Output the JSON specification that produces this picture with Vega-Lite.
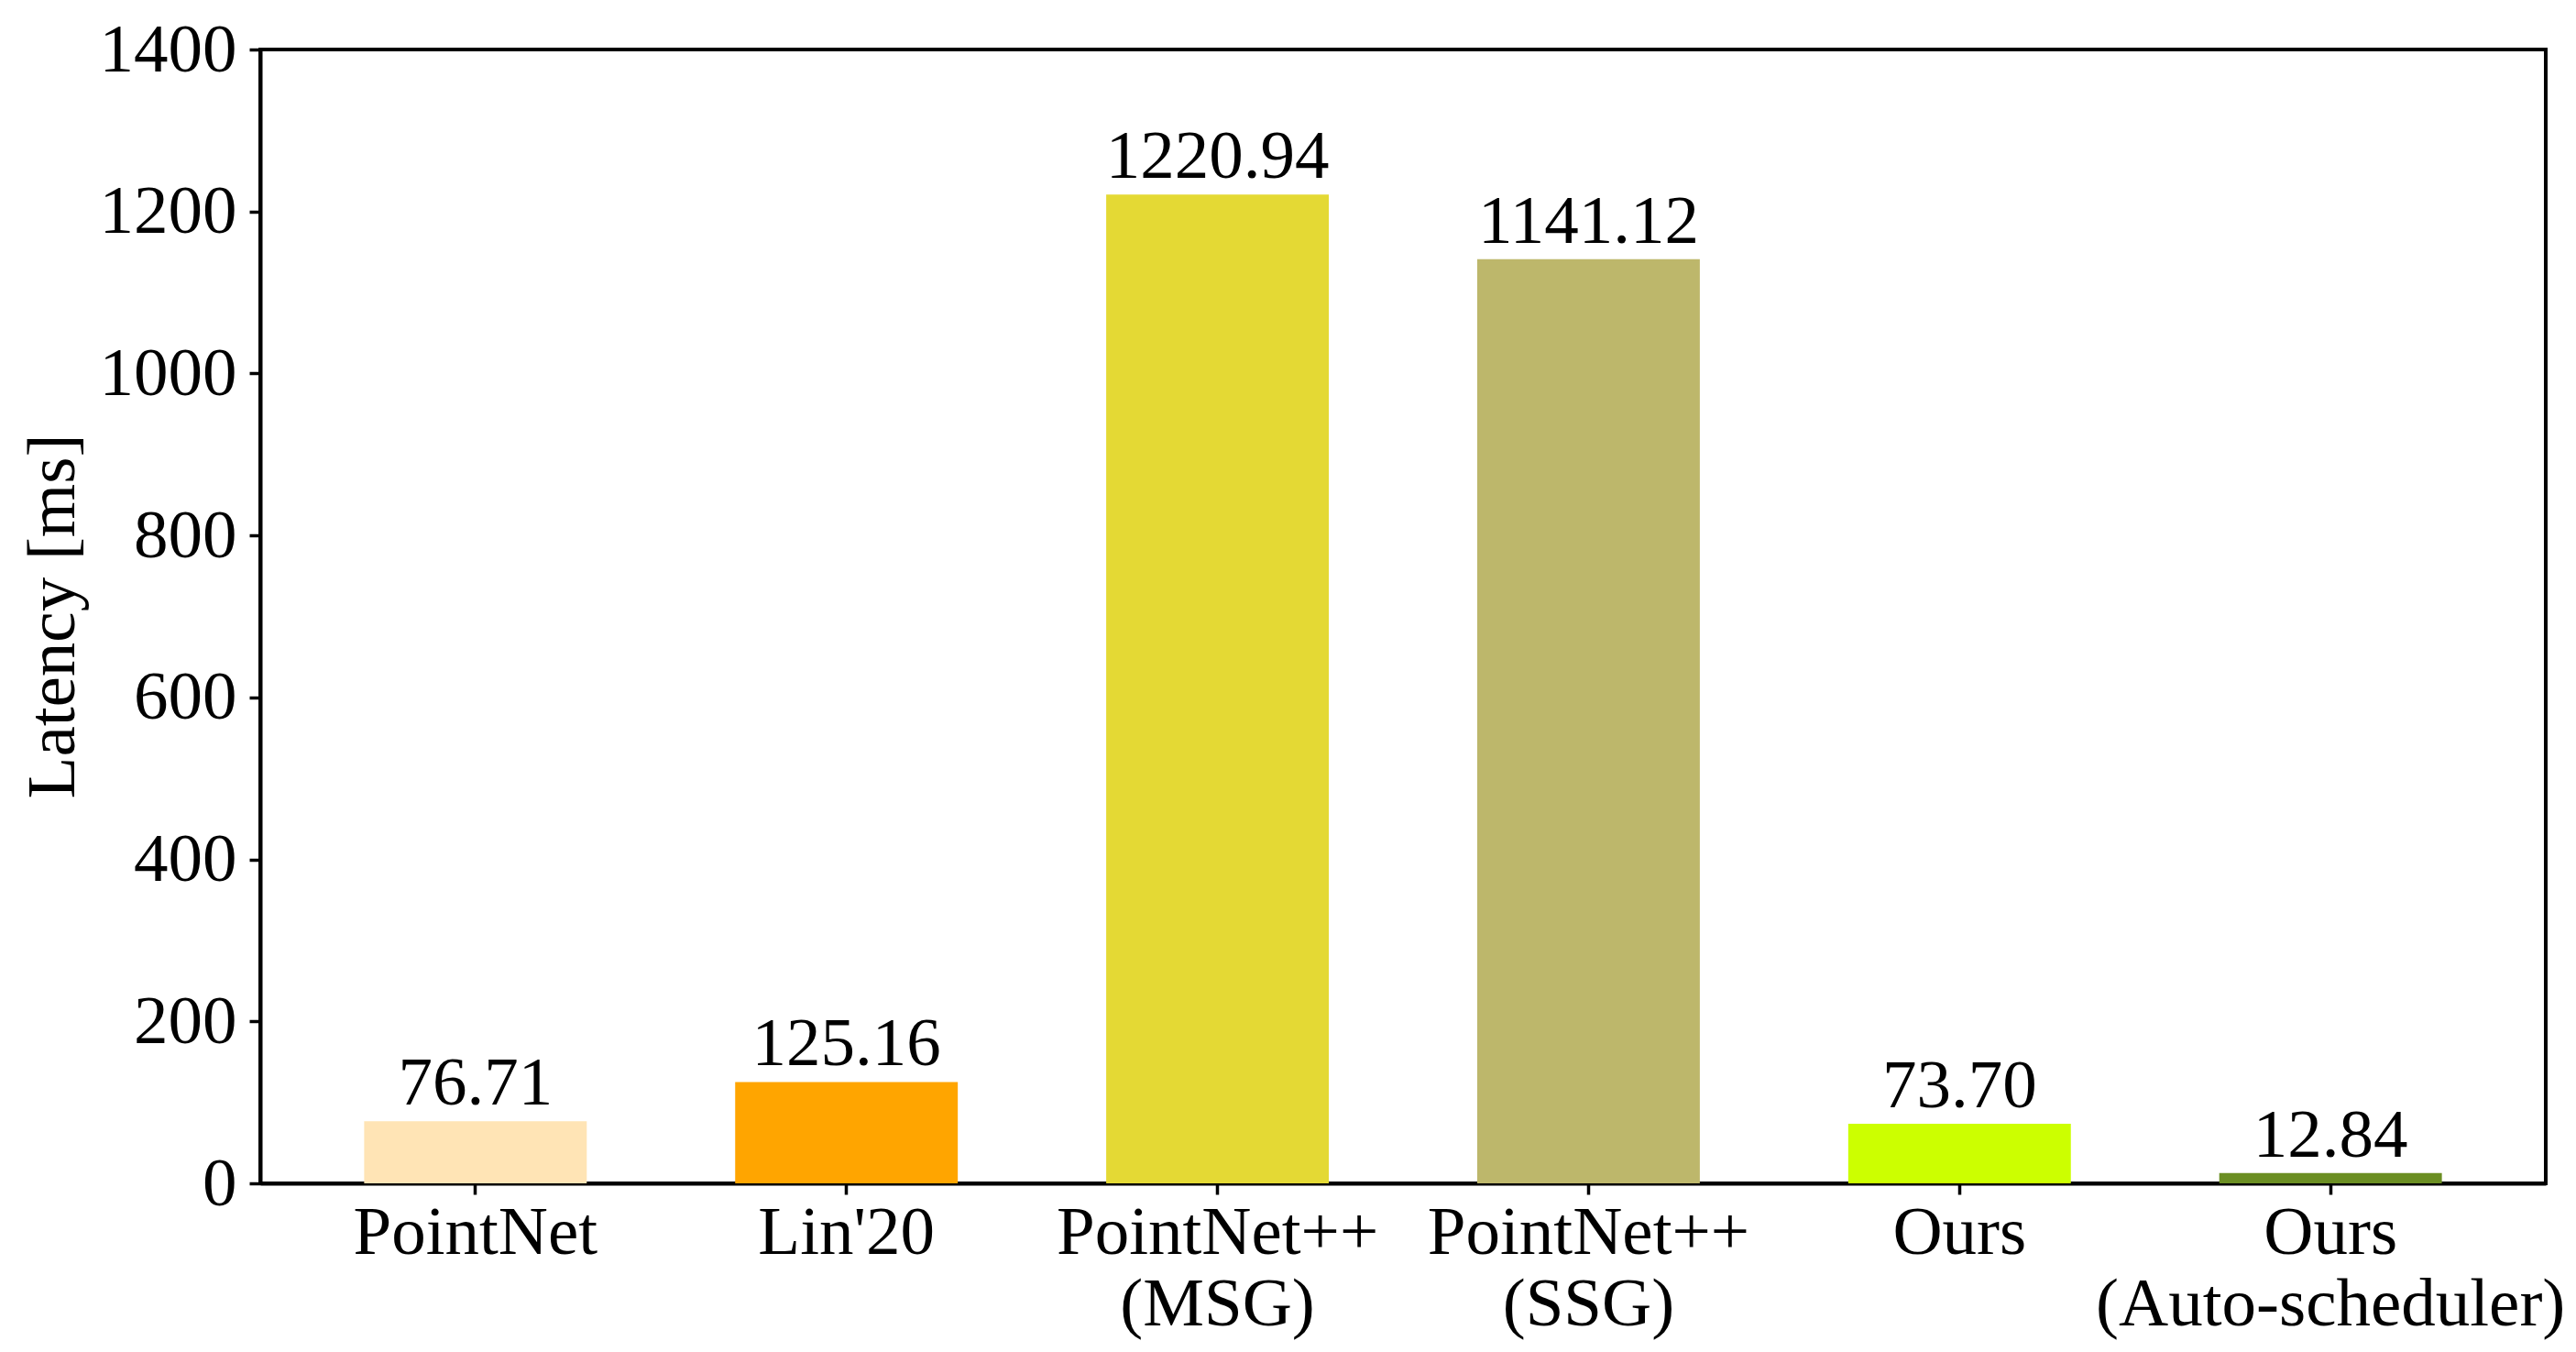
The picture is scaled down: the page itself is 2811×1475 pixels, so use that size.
{
  "$schema": "https://vega.github.io/schema/vega-lite/v6.json",
  "autosize": "none",
  "padding": {"left": 284, "top": 54, "right": 33, "bottom": 184},
  "width": 2494,
  "height": 1237,
  "background": "white",
  "config": {
    "font": "Liberation Serif",
    "view": {"stroke": "black", "strokeWidth": 4},
    "axis": {"grid": false, "zindex": 1}
  },
  "data": {
    "values": [
      {"model": "PointNet", "latency": 76.71, "color": "#FFE4B5"},
      {"model": "Lin'20", "latency": 125.16, "color": "#FFA500"},
      {"model": "PointNet++\n(MSG)", "latency": 1220.94, "color": "#E4D934"},
      {"model": "PointNet++\n(SSG)", "latency": 1141.12, "color": "#BDB76B"},
      {"model": "Ours", "latency": 73.70, "color": "#CCFF00"},
      {"model": "Ours\n(Auto-scheduler)", "latency": 12.84, "color": "#6B8E23"}
    ]
  },
  "encoding": {
    "x": {
      "field": "model",
      "type": "nominal",
      "sort": null,
      "scale": {"paddingInner": 0.4, "paddingOuter": 0.28},
      "axis": {
        "title": null,
        "labelAngle": 0,
        "labelFontSize": 75,
        "labelColor": "black",
        "labelExpr": "split(datum.label, '\\n')",
        "labelLineHeight": 78,
        "labelBaseline": "top",
        "labelPadding": 5,
        "labelLimit": 0,
        "tickSize": 12,
        "tickWidth": 3.5,
        "tickColor": "black",
        "domainColor": "black",
        "domainWidth": 4
      }
    },
    "y": {
      "field": "latency",
      "type": "quantitative",
      "scale": {"domain": [0, 1400], "nice": false},
      "axis": {
        "values": [0, 200, 400, 600, 800, 1000, 1200, 1400],
        "format": "d",
        "title": "Latency [ms]",
        "titleFontSize": 75,
        "titleFontWeight": "normal",
        "titleColor": "black",
        "titleAngle": -90,
        "titleAlign": "center",
        "titleBaseline": "alphabetic",
        "titleX": -204,
        "titleY": 618,
        "labelFontSize": 75,
        "labelColor": "black",
        "labelPadding": 14,
        "tickSize": 12,
        "tickWidth": 3.5,
        "tickColor": "black",
        "domainColor": "black",
        "domainWidth": 4
      }
    }
  },
  "layer": [
    {
      "mark": {"type": "bar"},
      "encoding": {
        "color": {"field": "color", "type": "nominal", "scale": null}
      }
    },
    {
      "mark": {"type": "text", "baseline": "alphabetic", "dy": -18, "fontSize": 75, "color": "black"},
      "encoding": {
        "text": {"field": "latency", "type": "quantitative", "format": ".2f"}
      }
    }
  ]
}
